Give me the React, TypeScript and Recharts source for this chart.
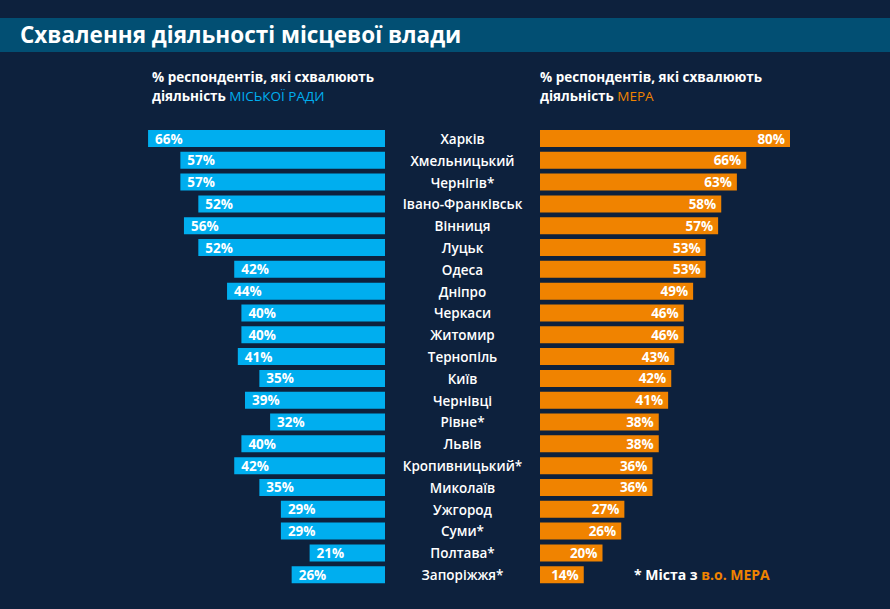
import { BarChart, Bar, XAxis, YAxis, LabelList } from 'recharts';

const cities = [
  'Харків', 'Хмельницький', 'Чернігів*', 'Івано-Франківськ', 'Вінниця', 'Луцьк', 'Одеса',
  'Дніпро', 'Черкаси', 'Житомир', 'Тернопіль', 'Київ', 'Чернівці', 'Рівне*', 'Львів',
  'Кропивницький*', 'Миколаїв', 'Ужгород', 'Суми*', 'Полтава*', 'Запоріжжя*',
];
const councilValues = [66, 57, 57, 52, 56, 52, 42, 44, 40, 40, 41, 35, 39, 32, 40, 42, 35, 29, 29, 21, 26];
const mayorValues = [80, 66, 63, 58, 57, 53, 53, 49, 46, 46, 43, 42, 41, 38, 38, 36, 36, 27, 26, 20, 14];

const data = cities.map((city, i) => ({
  city,
  council: councilValues[i],
  mayor: mayorValues[i],
}));

const BG = '#0d213d';
const CYAN = '#00aeef';
const ORANGE = '#f08300';
const FONT = '"Open Sans", "DejaVu Sans", sans-serif';

const TOP = 128;
const BOTTOM = 23;
const YAXIS_W = 155;

const CityTick = (props: any) => {
  const { y, payload } = props;
  return (
    <text
      x={YAXIS_W / 2}
      y={y}
      dy={5}
      textAnchor='middle'
      fill='#ffffff'
      fontSize={13.5}
      fontWeight={600}
      fontFamily={FONT}
    >
      {payload.value}
    </text>
  );
};

const LeftLabel = (props: any) => {
  const { x, y, width, height, value } = props;
  const left = Math.min(x, x + width);
  return (
    <text x={left + 7} y={y + height / 2 + 5} fill='#ffffff' fontSize={13.5} fontWeight={700} fontFamily={FONT}>
      {value}%
    </text>
  );
};

const RightLabel = (props: any) => {
  const { x, y, width, height, value } = props;
  const right = Math.max(x, x + width);
  return (
    <text
      x={right - 5}
      y={y + height / 2 + 5}
      textAnchor='end'
      fill='#ffffff'
      fontSize={13.5}
      fontWeight={700}
      fontFamily={FONT}
    >
      {value}%
    </text>
  );
};

const subStyle: React.CSSProperties = {
  position: 'absolute',
  color: '#ffffff',
  fontSize: 13.5,
  fontWeight: 700,
  lineHeight: '19px',
  fontFamily: FONT,
};

export default function App() {
  return (
    <div style={{ position: 'absolute', left: 0, top: 0, width: 890, height: 609, background: BG, overflow: 'hidden' }}>
      <div
        style={{
          position: 'absolute',
          left: 0,
          top: 18,
          width: 890,
          height: 34,
          background: '#024f73',
          color: '#ffffff',
          fontFamily: FONT,
          fontWeight: 700,
          fontSize: 22.5,
          lineHeight: '34px',
          paddingLeft: 20,
          boxSizing: 'border-box',
        }}
      >
        Схвалення діяльності місцевої влади
      </div>

      <div style={{ ...subStyle, left: 152, top: 68 }}>
        % респондентів, які схвалюють
        <br />
        діяльність <span style={{ color: CYAN, fontWeight: 400 }}>МІСЬКОЇ РАДИ</span>
      </div>
      <div style={{ ...subStyle, left: 540, top: 68 }}>
        % респондентів, які схвалюють
        <br />
        діяльність <span style={{ color: ORANGE, fontWeight: 400 }}>МЕРА</span>
      </div>

      <div style={{ position: 'absolute', left: 0, top: 0 }}>
        <BarChart
          width={400}
          height={609}
          data={data}
          layout='vertical'
          margin={{ top: TOP, bottom: BOTTOM, left: 26, right: 15 }}
        >
          <XAxis type='number' domain={[0, 100]} reversed hide />
          <YAxis type='category' dataKey='city' hide />
          <Bar dataKey='council' fill={CYAN} barSize={17} isAnimationActive={false}>
            <LabelList dataKey='council' content={LeftLabel} />
          </Bar>
        </BarChart>
      </div>

      <div style={{ position: 'absolute', left: 385, top: 0 }}>
        <BarChart
          width={505}
          height={609}
          data={data}
          layout='vertical'
          margin={{ top: TOP, bottom: BOTTOM, left: 0, right: 37.5 }}
        >
          <XAxis type='number' domain={[0, 100]} hide />
          <YAxis
            type='category'
            dataKey='city'
            width={YAXIS_W}
            axisLine={false}
            tickLine={false}
            tick={<CityTick />}
            interval={0}
          />
          <Bar dataKey='mayor' fill={ORANGE} barSize={17} isAnimationActive={false}>
            <LabelList dataKey='mayor' content={RightLabel} />
          </Bar>
        </BarChart>
      </div>

      <div
        style={{
          position: 'absolute',
          left: 634,
          top: 565,
          color: '#ffffff',
          fontFamily: FONT,
          fontWeight: 700,
          fontSize: 14,
        }}
      >
        * Міста з <span style={{ color: ORANGE }}>в.о. МЕРА</span>
      </div>
    </div>
  );
}
